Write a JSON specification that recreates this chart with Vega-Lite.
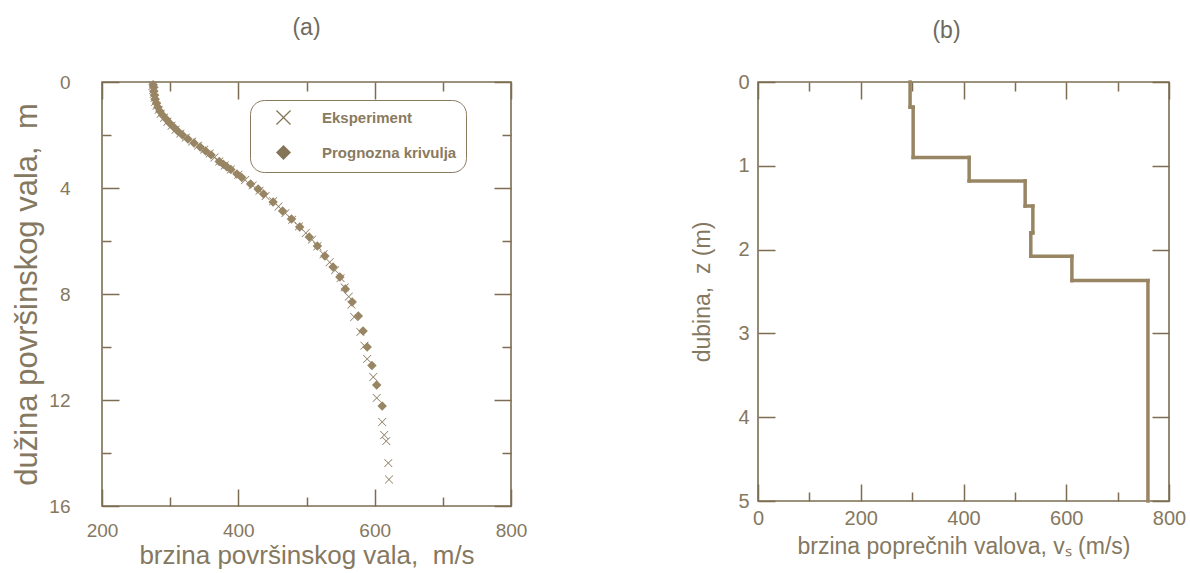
{
  "$schema": "https://vega.github.io/schema/vega-lite/v6.json",
  "padding": {"left": 11, "top": 16, "right": 0, "bottom": 0},
  "background": "white",
  "spacing": 163,
  "datasets": {
    "exp": [
      {"v": 274, "d": 0.15, "series": "Eksperiment"},
      {"v": 275, "d": 0.3, "series": "Eksperiment"},
      {"v": 276, "d": 0.45, "series": "Eksperiment"},
      {"v": 277, "d": 0.6, "series": "Eksperiment"},
      {"v": 278, "d": 0.75, "series": "Eksperiment"},
      {"v": 280, "d": 0.9, "series": "Eksperiment"},
      {"v": 283, "d": 1.05, "series": "Eksperiment"},
      {"v": 286, "d": 1.2, "series": "Eksperiment"},
      {"v": 291, "d": 1.35, "series": "Eksperiment"},
      {"v": 296, "d": 1.5, "series": "Eksperiment"},
      {"v": 302, "d": 1.65, "series": "Eksperiment"},
      {"v": 308, "d": 1.8, "series": "Eksperiment"},
      {"v": 315, "d": 1.95, "series": "Eksperiment"},
      {"v": 323, "d": 2.1, "series": "Eksperiment"},
      {"v": 332, "d": 2.25, "series": "Eksperiment"},
      {"v": 341, "d": 2.4, "series": "Eksperiment"},
      {"v": 350, "d": 2.55, "series": "Eksperiment"},
      {"v": 358, "d": 2.7, "series": "Eksperiment"},
      {"v": 365, "d": 2.85, "series": "Eksperiment"},
      {"v": 372, "d": 3.0, "series": "Eksperiment"},
      {"v": 380, "d": 3.15, "series": "Eksperiment"},
      {"v": 389, "d": 3.3, "series": "Eksperiment"},
      {"v": 400, "d": 3.5, "series": "Eksperiment"},
      {"v": 410, "d": 3.7, "series": "Eksperiment"},
      {"v": 421, "d": 3.9, "series": "Eksperiment"},
      {"v": 431, "d": 4.1, "series": "Eksperiment"},
      {"v": 440, "d": 4.3, "series": "Eksperiment"},
      {"v": 451, "d": 4.5, "series": "Eksperiment"},
      {"v": 459, "d": 4.7, "series": "Eksperiment"},
      {"v": 469, "d": 4.95, "series": "Eksperiment"},
      {"v": 479, "d": 5.2, "series": "Eksperiment"},
      {"v": 489, "d": 5.45, "series": "Eksperiment"},
      {"v": 499, "d": 5.7, "series": "Eksperiment"},
      {"v": 508, "d": 5.95, "series": "Eksperiment"},
      {"v": 516, "d": 6.2, "series": "Eksperiment"},
      {"v": 525, "d": 6.5, "series": "Eksperiment"},
      {"v": 534, "d": 6.8, "series": "Eksperiment"},
      {"v": 542, "d": 7.1, "series": "Eksperiment"},
      {"v": 550, "d": 7.4, "series": "Eksperiment"},
      {"v": 556, "d": 7.75, "series": "Eksperiment"},
      {"v": 562, "d": 8.1, "series": "Eksperiment"},
      {"v": 566, "d": 8.4, "series": "Eksperiment"},
      {"v": 570, "d": 8.87, "series": "Eksperiment"},
      {"v": 579, "d": 9.43, "series": "Eksperiment"},
      {"v": 585, "d": 9.95, "series": "Eksperiment"},
      {"v": 589, "d": 10.45, "series": "Eksperiment"},
      {"v": 598, "d": 11.13, "series": "Eksperiment"},
      {"v": 603, "d": 11.92, "series": "Eksperiment"},
      {"v": 611, "d": 12.83, "series": "Eksperiment"},
      {"v": 614, "d": 13.32, "series": "Eksperiment"},
      {"v": 617, "d": 13.55, "series": "Eksperiment"},
      {"v": 620, "d": 14.38, "series": "Eksperiment"},
      {"v": 621, "d": 15.0, "series": "Eksperiment"}
    ],
    "pred": [
      {"v": 275, "d": 0.1, "series": "Prognozna krivulja"},
      {"v": 276, "d": 0.2, "series": "Prognozna krivulja"},
      {"v": 276, "d": 0.35, "series": "Prognozna krivulja"},
      {"v": 277, "d": 0.5, "series": "Prognozna krivulja"},
      {"v": 278, "d": 0.65, "series": "Prognozna krivulja"},
      {"v": 280, "d": 0.8, "series": "Prognozna krivulja"},
      {"v": 282, "d": 0.95, "series": "Prognozna krivulja"},
      {"v": 285, "d": 1.1, "series": "Prognozna krivulja"},
      {"v": 289, "d": 1.25, "series": "Prognozna krivulja"},
      {"v": 294, "d": 1.4, "series": "Prognozna krivulja"},
      {"v": 299, "d": 1.55, "series": "Prognozna krivulja"},
      {"v": 305, "d": 1.7, "series": "Prognozna krivulja"},
      {"v": 311, "d": 1.85, "series": "Prognozna krivulja"},
      {"v": 318, "d": 2.0, "series": "Prognozna krivulja"},
      {"v": 326, "d": 2.15, "series": "Prognozna krivulja"},
      {"v": 335, "d": 2.3, "series": "Prognozna krivulja"},
      {"v": 344, "d": 2.45, "series": "Prognozna krivulja"},
      {"v": 352, "d": 2.6, "series": "Prognozna krivulja"},
      {"v": 360, "d": 2.75, "series": "Prognozna krivulja"},
      {"v": 372, "d": 3.0, "series": "Prognozna krivulja"},
      {"v": 378, "d": 3.1, "series": "Prognozna krivulja"},
      {"v": 383, "d": 3.2, "series": "Prognozna krivulja"},
      {"v": 389, "d": 3.3, "series": "Prognozna krivulja"},
      {"v": 398, "d": 3.47, "series": "Prognozna krivulja"},
      {"v": 405, "d": 3.6, "series": "Prognozna krivulja"},
      {"v": 418, "d": 3.85, "series": "Prognozna krivulja"},
      {"v": 429, "d": 4.04, "series": "Prognozna krivulja"},
      {"v": 437, "d": 4.23, "series": "Prognozna krivulja"},
      {"v": 451, "d": 4.53, "series": "Prognozna krivulja"},
      {"v": 465, "d": 4.87, "series": "Prognozna krivulja"},
      {"v": 478, "d": 5.17, "series": "Prognozna krivulja"},
      {"v": 490, "d": 5.47, "series": "Prognozna krivulja"},
      {"v": 504, "d": 5.85, "series": "Prognozna krivulja"},
      {"v": 516, "d": 6.19, "series": "Prognozna krivulja"},
      {"v": 527, "d": 6.57, "series": "Prognozna krivulja"},
      {"v": 539, "d": 6.98, "series": "Prognozna krivulja"},
      {"v": 549, "d": 7.36, "series": "Prognozna krivulja"},
      {"v": 557, "d": 7.81, "series": "Prognozna krivulja"},
      {"v": 567, "d": 8.3, "series": "Prognozna krivulja"},
      {"v": 576, "d": 8.83, "series": "Prognozna krivulja"},
      {"v": 583, "d": 9.4, "series": "Prognozna krivulja"},
      {"v": 589, "d": 10.0, "series": "Prognozna krivulja"},
      {"v": 596, "d": 10.7, "series": "Prognozna krivulja"},
      {"v": 603, "d": 11.43, "series": "Prognozna krivulja"},
      {"v": 611, "d": 12.23, "series": "Prognozna krivulja"}
    ],
    "vseg": [
      {"v": 296, "z1": 0, "z2": 0.3},
      {"v": 302, "z1": 0.3, "z2": 0.9},
      {"v": 411, "z1": 0.9, "z2": 1.18},
      {"v": 520, "z1": 1.18, "z2": 1.48},
      {"v": 535, "z1": 1.48, "z2": 1.8},
      {"v": 531, "z1": 1.8, "z2": 2.08},
      {"v": 611, "z1": 2.08, "z2": 2.37},
      {"v": 759, "z1": 2.37, "z2": 5}
    ],
    "hseg": [
      {"z": 0.3, "v1": 296, "v2": 302},
      {"z": 0.9, "v1": 302, "v2": 411},
      {"z": 1.18, "v1": 411, "v2": 520},
      {"z": 1.48, "v1": 520, "v2": 535},
      {"z": 1.8, "v1": 535, "v2": 531},
      {"z": 2.08, "v1": 531, "v2": 611},
      {"z": 2.37, "v1": 611, "v2": 759}
    ]
  },
  "config": {
    "view": {"stroke": "#7c6d52", "strokeWidth": 1.6},
    "axis": {
      "domain": false,
      "grid": false,
      "labelFlush": false,
      "tickColor": "#7c6d52",
      "tickWidth": 1.5,
      "labelFont": "Liberation Sans",
      "labelColor": "#857860",
      "titleFont": "Liberation Sans",
      "titleColor": "#857860",
      "titleFontWeight": "normal"
    },
    "title": {"font": "Liberation Sans", "fontSize": 23, "fontWeight": "normal", "color": "#6f6a5e"}
  },
  "hconcat": [
    {
      "title": {"text": "(a)", "offset": 33},
      "width": 409,
      "height": 424,
      "resolve": {"axis": {"x": "independent", "y": "independent"}},
      "layer": [
        {
          "data": {"name": "exp"},
          "mark": {"type": "point", "size": 70, "filled": true, "color": "#857558", "opacity": 1},
          "encoding": {
            "x": {
              "field": "v", "type": "quantitative",
              "scale": {"domain": [200, 800], "nice": false, "zero": false},
              "axis": {
                "orient": "bottom",
                "values": [200, 300, 400, 500, 600, 700, 800],
                "tickSize": {"condition": {"test": "datum.value % 200 === 0", "value": -17}, "value": -9},
                "labelExpr": "datum.value % 200 === 0 ? datum.label : ''",
                "labelPadding": 32,
                "labelFontSize": 19,
                "title": "brzina površinskog vala,\u00a0 m/s",
                "titleFontSize": 26,
                "titlePadding": 2
              }
            },
            "y": {
              "field": "d", "type": "quantitative",
              "scale": {"domain": [0, 16], "nice": false, "zero": false, "reverse": true},
              "axis": {
                "orient": "left",
                "values": [0, 2, 4, 6, 8, 10, 12, 14, 16],
                "tickSize": {"condition": {"test": "datum.value % 4 === 0", "value": -17}, "value": -9},
                "labelExpr": "datum.value % 4 === 0 ? datum.label : ''",
                "labelPadding": 49,
                "labelFontSize": 19,
                "title": "dužina površinskog vala,\u00a0 m",
                "titleFontSize": 31,
                "titlePadding": 5
              }
            },
            "shape": {
              "field": "series", "type": "nominal",
              "scale": {"domain": ["Eksperiment", "Prognozna krivulja"], "range": ["M-1,-0.88L-0.88,-1L0,-0.12L0.88,-1L1,-0.88L0.12,0L1,0.88L0.88,1L0,0.12L-0.88,1L-1,0.88L-0.12,0Z", "diamond"]},
              "legend": {
                "title": null, "orient": "none", "legendX": 148, "legendY": 18,
                "strokeColor": "#8a7b60", "cornerRadius": 14, "padding": 9,
                "symbolSize": 225, "symbolOffset": 16, "labelOffset": 30, "rowPadding": 14,
                "labelFont": "Liberation Sans", "labelFontWeight": "bold", "labelFontSize": 15, "labelColor": "#8a7a5e"
              }
            }
          }
        },
        {
          "data": {"name": "pred"},
          "mark": {"type": "point", "size": 90, "filled": true, "color": "#988563", "opacity": 1},
          "encoding": {
            "x": {
              "field": "v", "type": "quantitative",
              "axis": {
                "orient": "top",
                "values": [200, 300, 400, 500, 600, 700, 800],
                "tickSize": {"condition": {"test": "datum.value % 200 === 0", "value": -17}, "value": -9},
                "labels": false,
                "title": null
              }
            },
            "y": {
              "field": "d", "type": "quantitative",
              "axis": {
                "orient": "right",
                "values": [0, 2, 4, 6, 8, 10, 12, 14, 16],
                "tickSize": {"condition": {"test": "datum.value % 4 === 0", "value": -17}, "value": -9},
                "labels": false,
                "title": null
              }
            },
            "shape": {"field": "series", "type": "nominal"}
          }
        }
      ]
    },
    {
      "title": {"text": "(b)", "offset": 29, "dx": -17},
      "width": 411,
      "height": 419,
      "resolve": {"axis": {"x": "independent", "y": "independent"}},
      "layer": [
        {
          "data": {"name": "vseg"},
          "mark": {"type": "rule", "color": "#988563", "strokeWidth": 3.5, "strokeCap": "square"},
          "encoding": {
            "x": {
              "field": "v", "type": "quantitative",
              "scale": {"domain": [0, 800], "nice": false},
              "axis": {
                "orient": "bottom",
                "values": [0, 100, 200, 300, 400, 500, 600, 700, 800],
                "tickSize": {"condition": {"test": "datum.value % 200 === 0", "value": -17}, "value": -9},
                "labelExpr": "datum.value % 200 === 0 ? datum.label : ''",
                "labelPadding": 24,
                "labelFontSize": 20,
                "title": "brzina poprečnih valova, v\u209b (m/s)",
                "titleFontSize": 23,
                "titlePadding": 7
              }
            },
            "y": {
              "field": "z1", "type": "quantitative",
              "scale": {"domain": [0, 5], "nice": false, "reverse": true},
              "axis": {
                "orient": "left",
                "values": [0, 1, 2, 3, 4, 5],
                "tickSize": -17,
                "labelPadding": 26,
                "labelFontSize": 20,
                "title": "dubina,\u00a0 z (m)",
                "titleFontSize": 23,
                "titlePadding": 23
              }
            },
            "y2": {"field": "z2"}
          }
        },
        {
          "data": {"name": "hseg"},
          "mark": {"type": "rule", "color": "#988563", "strokeWidth": 3.5, "strokeCap": "square"},
          "encoding": {
            "x": {
              "field": "v1", "type": "quantitative",
              "axis": {
                "orient": "top",
                "values": [0, 100, 200, 300, 400, 500, 600, 700, 800],
                "tickSize": {"condition": {"test": "datum.value % 200 === 0", "value": -17}, "value": -9},
                "labels": false,
                "title": null
              }
            },
            "x2": {"field": "v2"},
            "y": {
              "field": "z", "type": "quantitative",
              "axis": {
                "orient": "right",
                "values": [0, 1, 2, 3, 4, 5],
                "tickSize": -17,
                "labels": false,
                "title": null
              }
            }
          }
        }
      ]
    }
  ]
}
